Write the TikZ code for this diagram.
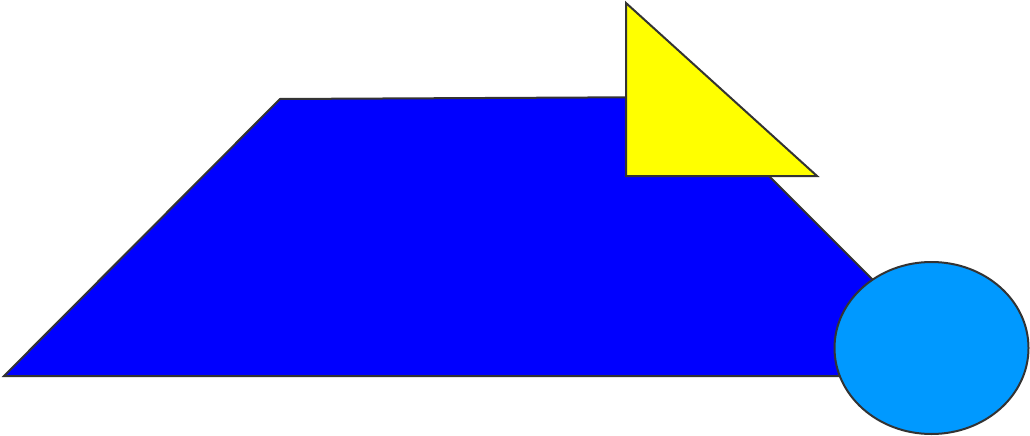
\documentclass[tikz,border=0pt]{standalone}
\definecolor{trapblue}{RGB}{0,0,255}
\definecolor{triyellow}{RGB}{255,255,0}
\definecolor{ellblue}{RGB}{0,153,255}
\definecolor{edge}{RGB}{51,51,51}
\begin{document}
\begin{tikzpicture}[x=1pt,y=-1pt,
  shape outline/.style={draw=edge,line width=2pt,line join=miter}]
\useasboundingbox (0,0) rectangle (1030,436);
\fill[white] (0,0) rectangle (1030,436);
% trapezoid
\filldraw[shape outline,fill=trapblue] (4,376) -- (280,99) -- (690,97) -- (969,376) -- cycle;
% triangle
\filldraw[shape outline,fill=triyellow] (626,3) -- (817,176) -- (626,176) -- cycle;
% ellipse
\filldraw[shape outline,fill=ellblue] (931.5,348) ellipse [x radius=97,y radius=86];
\end{tikzpicture}
\end{document}
